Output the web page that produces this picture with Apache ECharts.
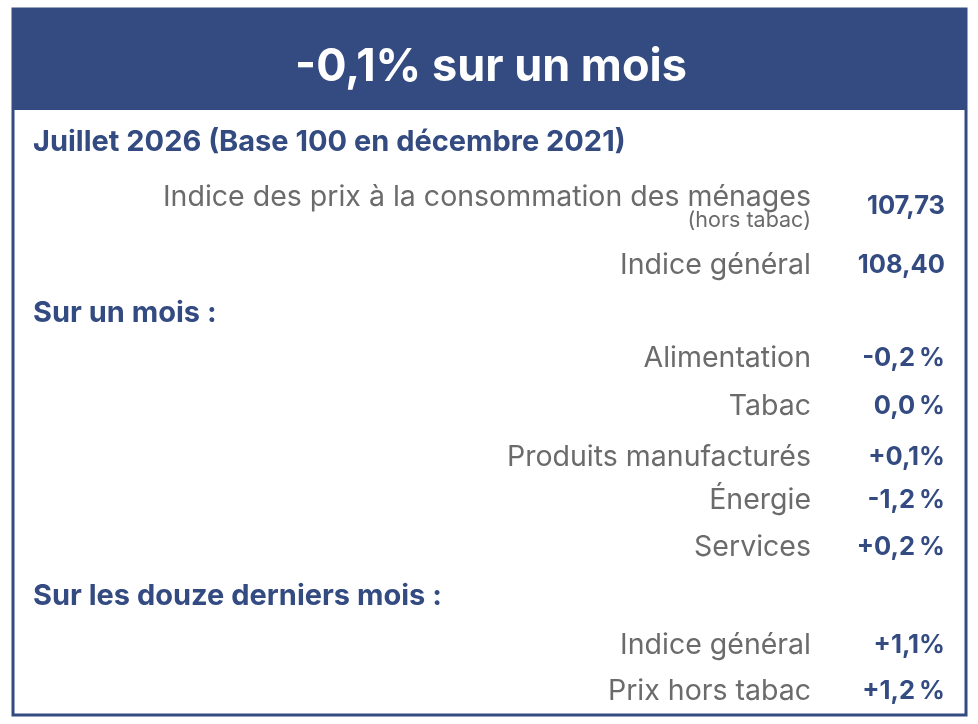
<!DOCTYPE html>
<html>
<head>
    <meta charset="UTF-8">
    <title>IPC juillet 2026</title>
    <script src="https://cdn.jsdelivr.net/npm/echarts@6/dist/echarts.min.js"></script>
    <style>
        html, body { margin: 0; padding: 0; background: #fff; }
    </style>
</head>
<body>
    <div id="main" style="width:978px; height:724px;"></div>
    <script>
        // donnees du tableau
        var titre = '-0,1% sur un mois';
        var sections = ['Juillet 2026 (Base 100 en décembre 2021)', 'Sur un mois :', 'Sur les douze derniers mois :'];
        var indiceLabels = ['Indice des prix à la consommation des ménages', 'Indice général'];
        var indiceNote = '(hors tabac)';
        var indiceValues = ['107,73', '108,40'];
        var moisLabels = ['Alimentation', 'Tabac', 'Produits manufacturés', 'Énergie', 'Services'];
        var moisValues = ['-0,2\u202F%', '0,0\u202F%', '+0,1%', '-1,2\u202F%', '+0,2\u202F%'];
        var anLabels = ['Indice général', 'Prix hors tabac'];
        var anValues = ['+1,1%', '+1,2\u202F%'];

        var blue = '#334b81';
        var grey = '#6b6b6b';
        var font = 'Inter, "DejaVu Sans", sans-serif';
        var labelX = 811, valueX = 945;

        var g = [];
        // cadre + bandeau
        g.push({ type: 'rect', shape: { x: 13, y: 9, width: 953, height: 706 },
            style: { fill: '#fff', stroke: blue, lineWidth: 3 } });
        g.push({ type: 'rect', shape: { x: 12, y: 8, width: 955, height: 102 },
            style: { fill: blue } });
        g.push({ type: 'text', x: 491, y: 67, style: { text: titre, fill: '#fff',
            font: 'bold 45px ' + font, textAlign: 'center', textVerticalAlign: 'middle' } });

        function section(txt, y) {
            g.push({ type: 'text', x: 33, y: y, style: { text: txt, fill: blue,
                font: 'bold 29px ' + font, textAlign: 'left', textVerticalAlign: 'middle' } });
        }
        function row(lab, val, y, vy) {
            g.push({ type: 'text', x: labelX, y: y, style: { text: lab, fill: grey,
                font: '28.5px ' + font, textAlign: 'right', textVerticalAlign: 'middle' } });
            g.push({ type: 'text', x: valueX, y: vy === undefined ? y : vy, style: { text: val, fill: blue,
                font: 'bold 25.5px ' + font, textAlign: 'right', textVerticalAlign: 'middle' } });
        }

        section(sections[0], 142);
        row(indiceLabels[0], indiceValues[0], 197, 206);
        g.push({ type: 'text', x: labelX, y: 221, style: { text: indiceNote, fill: grey,
            font: '21.5px ' + font, textAlign: 'right', textVerticalAlign: 'middle' } });
        row(indiceLabels[1], indiceValues[1], 265);

        section(sections[1], 313);
        var moisY = [358, 406, 457, 500, 547];
        moisLabels.forEach(function (l, i) { row(l, moisValues[i], moisY[i]); });

        section(sections[2], 596);
        var anY = [645, 691];
        anLabels.forEach(function (l, i) { row(l, anValues[i], anY[i]); });

        var chart = echarts.init(document.getElementById('main'), null, { renderer: 'canvas' });
        chart.setOption({ animation: false, graphic: g });
    </script>
</body>
</html>
